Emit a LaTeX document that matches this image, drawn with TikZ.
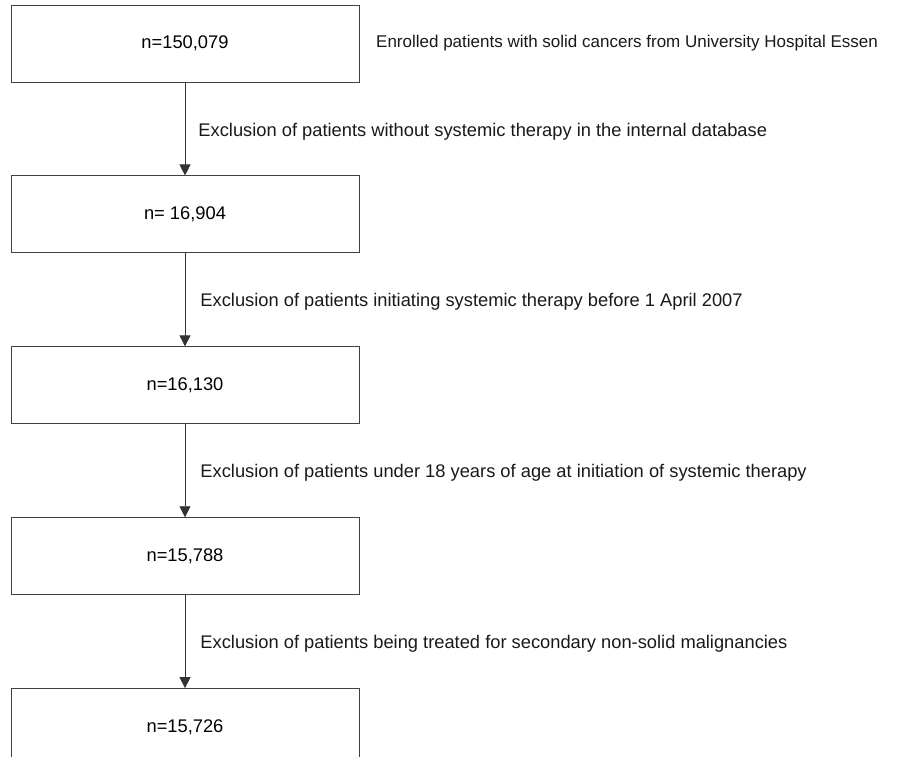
\documentclass[tikz,border=0pt]{standalone}
\usepackage{fontspec}
\setmainfont{Liberation Sans}
\usetikzlibrary{positioning,arrows.meta}

\tikzstyle{stage} = [draw=black!75, line width=0.9pt, minimum width=348pt, minimum height=77pt, inner sep=0pt, font=\fontsize{18.3}{21}\selectfont]
\tikzstyle{note} = [inner sep=0pt, text=black!90, font=\fontsize{18.3}{21}\selectfont]
\tikzstyle{flow} = [draw=black!80, line width=0.9pt, -{Triangle[width=11pt,length=11pt]}]

\begin{document}
\begin{tikzpicture}[x=1pt,y=1pt,node distance=93pt]
	\clip (0,0) rectangle (924,-757);
	\node[stage] (n1) at (185,-43.5) {n=150,079};
	\node[stage, below=of n1] (n2) {n= 16,904};
	\node[stage, below=of n2] (n3) {n=16,130};
	\node[stage, below=of n3] (n4) {n=15,788};
	\node[stage, below=of n4] (n5) {n=15,726};
	\node[note, anchor=west, font=\fontsize{17}{20}\selectfont] (enrol) at (376,-43) {Enrolled patients with solid cancers from University Hospital Essen};
	\draw[flow] (n1) -- (n2) node[note, midway, right=13pt, yshift=-3pt] (x1) {Exclusion of patients without systemic therapy in the internal database};
	\draw[flow] (n2) -- (n3) node[note, midway, right=15pt, yshift=-2pt] (x2) {Exclusion of patients initiating systemic therapy before 1 April 2007};
	\draw[flow] (n3) -- (n4) node[note, midway, right=15pt, yshift=-2pt] (x3) {Exclusion of patients under 18 years of age at initiation of systemic therapy};
	\draw[flow] (n4) -- (n5) node[note, midway, right=15pt, yshift=-2pt] (x4) {Exclusion of patients being treated for secondary non-solid malignancies};
\end{tikzpicture}
\end{document}
